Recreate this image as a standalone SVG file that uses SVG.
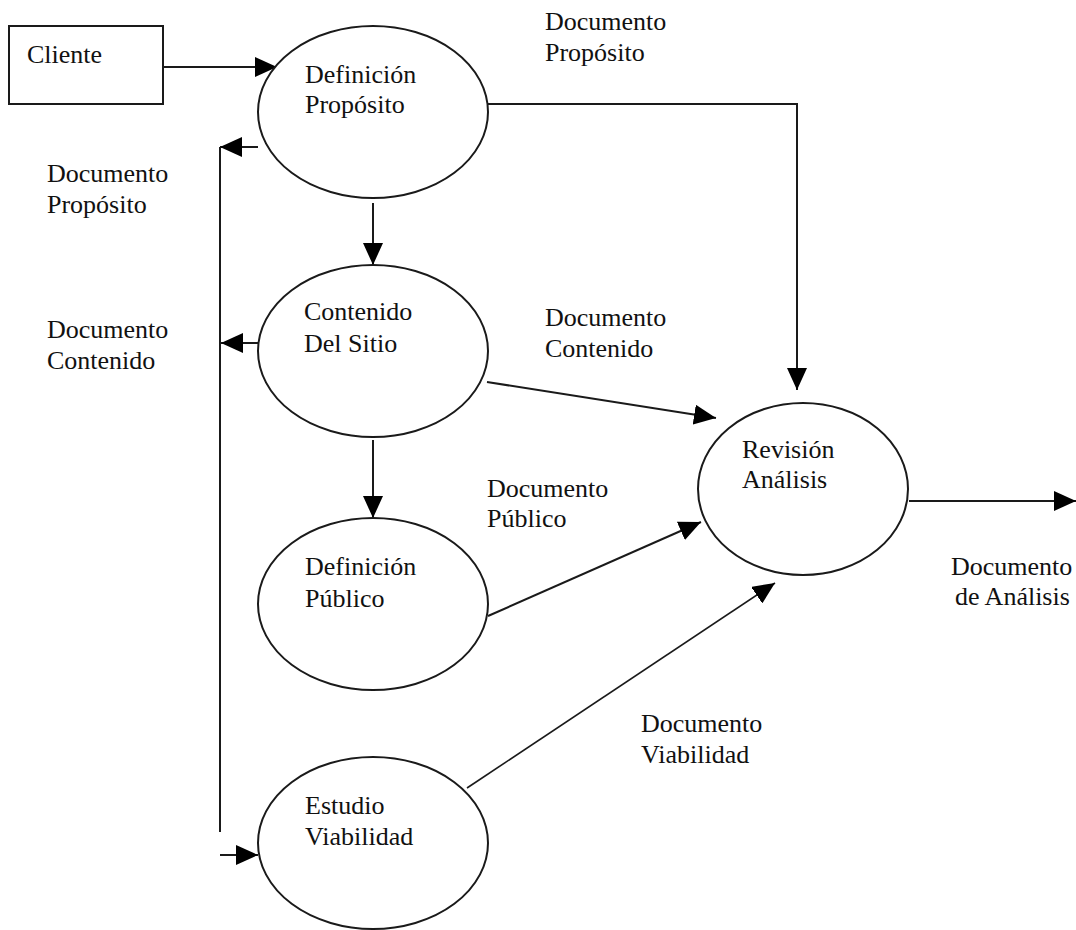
<svg xmlns="http://www.w3.org/2000/svg" width="1076" height="930" viewBox="0 0 1076 930">
<style>
  .shape { fill: #ffffff; stroke: #1a1a1a; stroke-width: 2; }
  .edge { fill: none; stroke: #1a1a1a; stroke-width: 2; }
  .arrow { marker-end: url(#ah); }
  text { font-family: "Liberation Serif", "Times New Roman", serif; font-size: 26px; fill: #111111; }
</style>
<defs>
  <marker id="ah" markerUnits="userSpaceOnUse" markerWidth="22" markerHeight="20" refX="22" refY="10" orient="auto">
    <path d="M0,0 L22,10 L0,20 z" fill="#000000"/>
  </marker>
</defs>
<rect width="1076" height="930" fill="#ffffff"/>

<g id="connectors">
  <line class="edge arrow" x1="163" y1="67" x2="277" y2="67"/>
  <polyline class="edge arrow" points="488,104 797,104 797,390"/>
  <line class="edge arrow" x1="373" y1="203" x2="373" y2="265"/>
  <line class="edge arrow" x1="258" y1="147" x2="220" y2="147"/>
  <line class="edge" x1="220" y1="147" x2="220" y2="832"/>
  <line class="edge arrow" x1="258" y1="343" x2="221" y2="343"/>
  <line class="edge arrow" x1="373" y1="440" x2="373" y2="518"/>
  <line class="edge arrow" x1="220" y1="855" x2="258" y2="855"/>
  <line class="edge arrow" x1="487" y1="382" x2="716" y2="418"/>
  <line class="edge arrow" x1="488" y1="616" x2="701" y2="522"/>
  <line class="edge arrow" style="stroke-width:1.6" x1="467" y1="788" x2="775" y2="583"/>
  <line class="edge arrow" x1="909" y1="501" x2="1076" y2="501"/>
</g>

<g id="labels">
  <text x="545" y="30">Documento</text>
  <text x="545" y="61">Propósito</text>
  <text x="47" y="182">Documento</text>
  <text x="47" y="213">Propósito</text>
  <text x="47" y="338">Documento</text>
  <text x="47" y="369">Contenido</text>
  <text x="545" y="326">Documento</text>
  <text x="545" y="357">Contenido</text>
  <text x="487" y="497">Documento</text>
  <text x="487" y="527">Público</text>
  <text x="641" y="732">Documento</text>
  <text x="641" y="763">Viabilidad</text>
  <text x="951" y="575">Documento</text>
  <text x="955" y="605">de Análisis</text>
</g>

<g id="cliente">
  <rect class="shape" x="9" y="26" width="154" height="78"/>
  <text x="27" y="63">Cliente</text>
</g>

<g id="definicion-proposito">
  <ellipse class="shape" cx="373" cy="112" rx="115" ry="86"/>
  <text x="305" y="83">Definición</text>
  <text x="305" y="113">Propósito</text>
</g>

<g id="contenido-sitio">
  <ellipse class="shape" cx="373" cy="351" rx="115" ry="86"/>
  <text x="304" y="320">Contenido</text>
  <text x="304" y="352">Del Sitio</text>
</g>

<g id="definicion-publico">
  <ellipse class="shape" cx="373" cy="604" rx="115" ry="86"/>
  <text x="305" y="575">Definición</text>
  <text x="305" y="607">Público</text>
</g>

<g id="estudio-viabilidad">
  <ellipse class="shape" cx="373" cy="843" rx="115" ry="86"/>
  <text x="305" y="814">Estudio</text>
  <text x="305" y="845">Viabilidad</text>
</g>

<g id="revision-analisis">
  <ellipse class="shape" cx="803" cy="489" rx="105" ry="86"/>
  <text x="742" y="458">Revisión</text>
  <text x="742" y="488">Análisis</text>
</g>
</svg>
